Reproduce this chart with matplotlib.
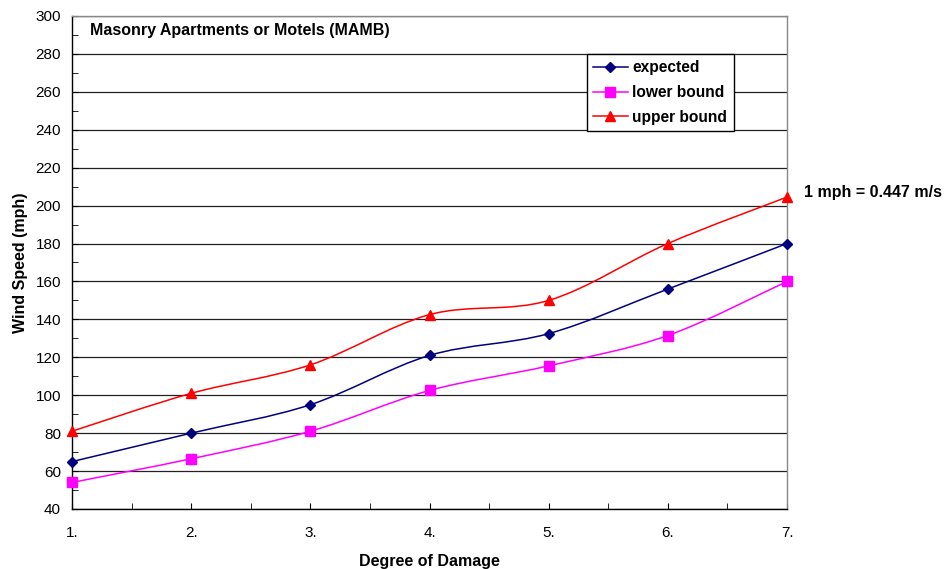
import numpy as np
import matplotlib
matplotlib.use("Agg")
import matplotlib.pyplot as plt
from matplotlib.path import Path
from matplotlib.patches import PathPatch
from matplotlib.lines import Line2D
from matplotlib.ticker import MultipleLocator, FixedLocator

plt.rcParams['font.family'] = ['Liberation Sans', 'DejaVu Sans']

# degree of damage categories and wind speeds (mph)
damage = [1, 2, 3, 4, 5, 6, 7]
damage_labels = ["1.", "2.", "3.", "4.", "5.", "6.", "7."]
expected = [65, 80, 95, 121, 132.5, 156, 180]
lower_bound = [54, 66.5, 81, 102.5, 115.5, 131.5, 160]
upper_bound = [81, 101, 116, 142.5, 150, 180, 204.5]

series = [
    ("expected", expected, "#000080", "D", 5),
    ("lower bound", lower_bound, "#ff00ff", "s", 6.5),
    ("upper bound", upper_bound, "#ff0000", "^", 7),
]


def smooth_path(xs, ys):
    # Excel-like smoothed line: cubic bezier segments through every point
    pts = np.column_stack([xs, ys]).astype(float)
    n = len(pts)
    verts = [pts[0]]
    codes = [Path.MOVETO]
    for i in range(n - 1):
        p0 = pts[i - 1] if i > 0 else pts[i]
        p1 = pts[i]
        p2 = pts[i + 1]
        p3 = pts[i + 2] if i + 2 < n else pts[i + 1]
        c1 = p1 + (p2 - p0) / 6.0
        c2 = p2 - (p3 - p1) / 6.0
        verts += [c1, c2, p2]
        codes += [Path.CURVE4] * 3
    return Path(verts, codes)


fig = plt.figure(figsize=(9.44, 5.69), dpi=100)
ax = fig.add_axes([72/944, 60/569, 715/944, 493/569])

ax.set_xlim(1, 7)
ax.set_ylim(40, 300)

for name, vals, col, mk, ms in series:
    ax.add_patch(PathPatch(smooth_path(damage, vals), facecolor="none",
                           edgecolor=col, lw=1.1, zorder=3))
    ax.plot(damage, vals, ls="none", marker=mk, color=col, ms=ms,
            zorder=4, clip_on=False)

ax.yaxis.set_major_locator(MultipleLocator(20))
ax.yaxis.set_minor_locator(MultipleLocator(10))
ax.xaxis.set_major_locator(FixedLocator(damage))
ax.xaxis.set_minor_locator(MultipleLocator(0.5))
ax.set_xticklabels(damage_labels)
ax.grid(axis="y", which="major", color="#222222", lw=0.9)
ax.set_axisbelow(True)

ax.tick_params(axis="x", which="both", direction="in", length=4,
               labelsize=11, pad=12)
ax.tick_params(axis="y", which="both", direction="in", length=4,
               labelsize=11, pad=8)

for s in ["left", "bottom"]:
    ax.spines[s].set_color("black")
    ax.spines[s].set_linewidth(1.0)
for s in ["right", "top"]:
    ax.spines[s].set_color("#888888")
    ax.spines[s].set_linewidth(1.0)

ax.set_xlabel("Degree of Damage", fontsize=11.5, fontweight="bold", labelpad=10)
ax.set_ylabel("Wind Speed (mph)", fontsize=11.5, fontweight="bold", labelpad=5)

ax.text(0.025, 0.9696, "Masonry Apartments or Motels (MAMB)", transform=ax.transAxes,
        fontsize=11.5, fontweight="bold", va="center", ha="left")
ax.text(1.0238, 0.641, "1 mph = 0.447 m/s", transform=ax.transAxes,
        fontsize=11.5, fontweight="bold", va="center", ha="left", clip_on=False)

handles = [Line2D([], [], color=col, marker=mk, ms=ms, lw=1.1)
           for name, vals, col, mk, ms in series]
leg = ax.legend(handles, [s[0] for s in series], loc="upper left",
                bbox_to_anchor=(0.72, 0.923), fancybox=False, framealpha=1,
                edgecolor="black", handlelength=2.2, borderaxespad=0,
                labelspacing=0.62, borderpad=0.42, handletextpad=0.3,
                prop={"size": 11.2, "weight": "bold"})
leg.get_frame().set_linewidth(1.0)

fig.savefig("out.png", dpi=100)
